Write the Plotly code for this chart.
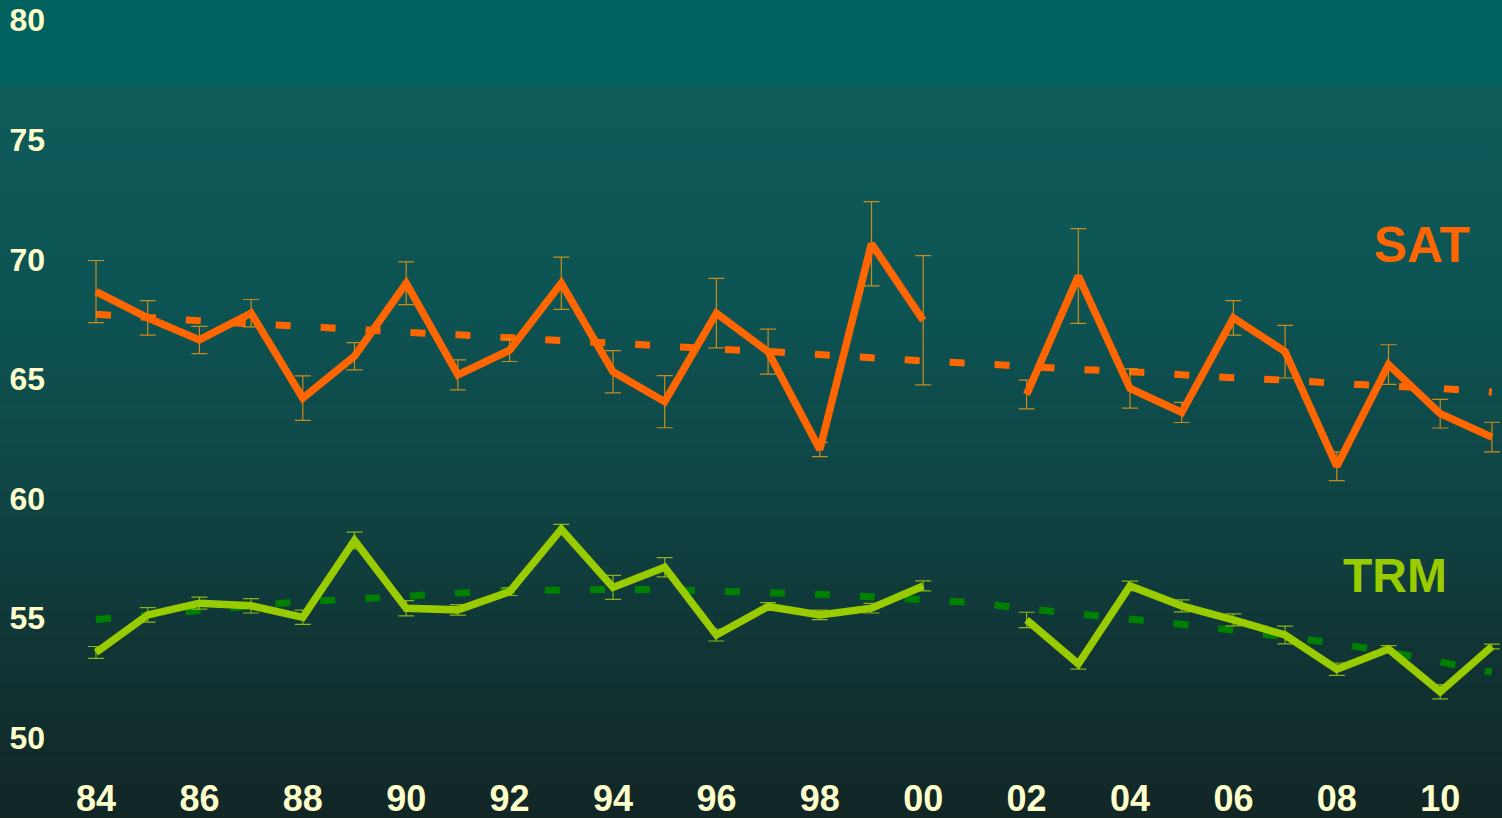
import plotly.graph_objects as go

# ---------------- data ----------------
years = list(range(1984, 2012))
tick_years = [1984, 1986, 1988, 1990, 1992, 1994, 1996, 1998, 2000, 2002, 2004, 2006, 2008, 2010]
tick_labels = ["84", "86", "88", "90", "92", "94", "96", "98", "00", "02", "04", "06", "08", "10"]
y_ticks = [50, 55, 60, 65, 70, 75, 80]

# SAT observed (None = no data for 2001)
sat = [68.65, 67.55, 66.63, 67.75, 64.2, 65.95, 69.0, 65.17, 66.2, 69.0,
       65.3, 64.05, 67.75, 66.14, 62.05, 70.65, 67.45, None, 64.35, 69.3,
       64.6, 63.6, 67.55, 66.14, 61.35, 65.6, 63.55, 62.57]
sat_err = [1.3, 0.72, 0.57, 0.57, 0.93, 0.57, 0.89, 0.63, 0.47, 1.09,
           0.88, 1.09, 1.45, 0.94, 0.3, 1.76, 2.7, None, 0.6, 1.98,
           0.82, 0.42, 0.72, 1.1, 0.6, 0.83, 0.6, 0.62]
sat_trend = [67.7, 67.55, 67.4, 67.3, 67.2, 67.05, 66.95, 66.85, 66.7, 66.6,
             66.5, 66.35, 66.25, 66.15, 66.0, 65.9, 65.75, 65.65, 65.5, 65.4,
             65.3, 65.15, 65.05, 64.95, 64.8, 64.7, 64.6, 64.45]

# TRM observed
trm = [53.57, 55.14, 55.63, 55.52, 55.04, 58.25, 55.42, 55.35, 56.11, 58.72,
       56.29, 57.13, 54.3, 55.49, 55.14, 55.42, 56.35, None, 54.93, 53.09,
       56.35, 55.52, 54.93, 54.3, 52.87, 53.71, 51.93, 53.82]
trm_err = [0.25, 0.3, 0.25, 0.3, 0.3, 0.35, 0.32, 0.22, 0.16, 0.2,
           0.5, 0.4, 0.25, 0.16, 0.2, 0.2, 0.21, None, 0.32, 0.22,
           0.2, 0.25, 0.25, 0.37, 0.26, 0.15, 0.3, 0.1]
trm_trend = [54.95, 55.15, 55.35, 55.55, 55.7, 55.8, 55.95, 56.05, 56.15, 56.2,
             56.2, 56.2, 56.15, 56.1, 56.0, 55.9, 55.8, 55.65, 55.4, 55.2,
             55.0, 54.75, 54.5, 54.25, 53.95, 53.6, 53.2, 52.75]

# ---------------- figure ----------------
W, H = 1502, 818
ML, MR, MT, MB = 52, 0, 0, 48
plot_h = H - MT - MB

fig = go.Figure()

# trend lines (dashed)
fig.add_trace(go.Scatter(x=years, y=sat_trend, mode="lines",
                         line=dict(color="#ff6600", width=7, dash="15px,30px"),
                         hoverinfo="skip", showlegend=False))
fig.add_trace(go.Scatter(x=years, y=trm_trend, mode="lines",
                         line=dict(color="#008000", width=7, dash="15px,30px"),
                         hoverinfo="skip", showlegend=False))

# observed with error bars
fig.add_trace(go.Scatter(x=years, y=sat, mode="lines",
                         line=dict(color="#ff6600", width=7.5),
                         connectgaps=False,
                         error_y=dict(type="data", array=sat_err, visible=True,
                                      color="rgba(235,150,20,0.85)", thickness=1.2, width=8),
                         showlegend=False))
fig.add_trace(go.Scatter(x=years, y=trm, mode="lines",
                         line=dict(color="#99cc00", width=7.5),
                         connectgaps=False,
                         error_y=dict(type="data", array=trm_err, visible=True,
                                      color="rgba(160,200,20,0.85)", thickness=1.2, width=8),
                         showlegend=False))

# background gradient strips (paper coordinates, extend beyond plot area)
def lerp(a, b, t):
    return tuple(int(round(a[i] + (b[i] - a[i]) * t)) for i in range(3))

stops = [(0, (0, 98, 94)), (84, (0, 98, 94)), (85, (14, 92, 91)),
         (300, (13, 84, 84)), (500, (16, 68, 68)), (700, (17, 48, 48)), (818, (18, 38, 38))]

def color_at(py):
    for i in range(len(stops) - 1):
        p0, c0 = stops[i]
        p1, c1 = stops[i + 1]
        if p0 <= py <= p1:
            t = 0 if p1 == p0 else (py - p0) / (p1 - p0)
            return lerp(c0, c1, t)
    return stops[-1][1]

shapes = []
step = 6
edges = [0, 85] + list(range(85 + step, H, step)) + [H]
edges = sorted(set(edges))
for a, b in zip(edges[:-1], edges[1:]):
    c = color_at((a + b) / 2)
    y0 = (plot_h - (b - MT)) / plot_h
    y1 = (plot_h - (a - MT)) / plot_h
    shapes.append(dict(type="rect", xref="paper", yref="paper",
                       x0=-ML / (W - ML - MR) - 0.01, x1=1.01,
                       y0=y0, y1=y1 + 0.0005,
                       fillcolor="rgb(%d,%d,%d)" % c, line=dict(width=0),
                       layer="below"))

px_per_year = 51.7
x0r = 1984 - (96 - ML) / px_per_year
x1r = x0r + (W - ML - MR) / px_per_year
px_per_unit = 23.93
y1r = 80 + 20 / px_per_unit
y0r = y1r - plot_h / px_per_unit

fig.update_layout(
    width=W, height=H,
    margin=dict(l=ML, r=MR, t=MT, b=MB),
    paper_bgcolor="rgb(15,60,60)",
    plot_bgcolor="rgba(0,0,0,0)",
    shapes=shapes,
    showlegend=False,
    xaxis=dict(range=[x0r, x1r], tickvals=tick_years, ticktext=tick_labels,
               showgrid=False, zeroline=False, showline=False, ticks="",
               tickfont=dict(family="Liberation Sans, Arial", size=36, color="#ffffcc",
                             weight="bold"),
               ticklabelstandoff=4),
    yaxis=dict(range=[y0r, y1r], tickvals=y_ticks,
               showgrid=False, zeroline=False, showline=False, ticks="",
               tickfont=dict(family="Liberation Sans, Arial", size=32, color="#ffffcc",
                             weight="bold"),
               ticklabelstandoff=6),
    annotations=[
        dict(text="SAT", x=2009.64, y=70.6, xref="x", yref="y", showarrow=False,
             font=dict(family="Liberation Sans, Arial", size=50, color="#ff6600", weight="bold")),
        dict(text="TRM", x=2009.12, y=56.8, xref="x", yref="y", showarrow=False,
             font=dict(family="Liberation Sans, Arial", size=48, color="#99cc00", weight="bold")),
    ],
)

fig.write_html("out.html",
               config={"displayModeBar": False},
               post_script="document.body.style.margin='0';document.body.style.padding='0';"
                           "document.body.style.overflow='hidden';")
